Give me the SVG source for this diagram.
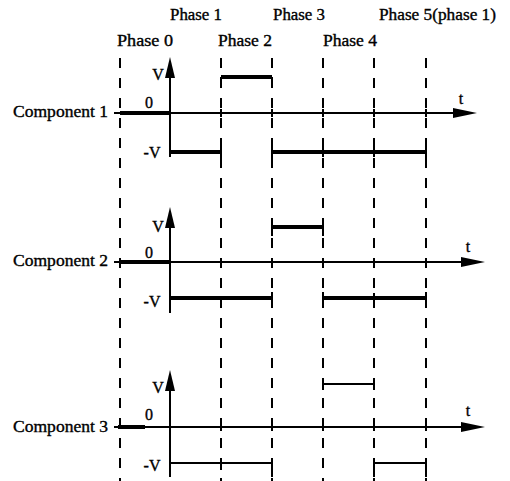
<svg xmlns="http://www.w3.org/2000/svg" width="510" height="481" viewBox="0 0 510 481">
<defs>
<style>
text{font-family:"Liberation Serif","Times New Roman",serif;font-size:16px;fill:#000;stroke:#000;stroke-width:0.35}
.ax{stroke:#000;stroke-width:2;fill:none}
.dash{stroke:#000;stroke-width:2;stroke-dasharray:10 10;fill:none}
.thick{stroke:#000;stroke-width:4;fill:none}
.thin{stroke:#000;stroke-width:2;fill:none}
.mid{text-anchor:middle}
</style>
</defs>
<rect width="510" height="481" fill="#fff"/>
<g id="phase-labels">
<text x="117" y="46" textLength="56" lengthAdjust="spacingAndGlyphs">Phase 0</text>
<text x="170" y="20" textLength="52" lengthAdjust="spacingAndGlyphs">Phase 1</text>
<text x="218" y="46" textLength="54" lengthAdjust="spacingAndGlyphs">Phase 2</text>
<text x="273" y="20" textLength="52" lengthAdjust="spacingAndGlyphs">Phase 3</text>
<text x="323" y="46" textLength="54" lengthAdjust="spacingAndGlyphs">Phase 4</text>
<text x="379" y="20" textLength="117" lengthAdjust="spacingAndGlyphs">Phase 5(phase 1)</text>
</g>
<g id="connectors">
<path class="dash" d="M120 58V481M221 58V481M272 58V481M323 58V481M374 58V481M426 58V481"/>
</g>
<g id="component1">
<text x="13" y="117" textLength="95" lengthAdjust="spacingAndGlyphs" font-size="17">Component 1</text>
<path class="ax" d="M114 113H458"/>
<polygon points="477,113 453,108 453,118"/>
<path class="ax" d="M170 75V157"/>
<polygon points="170,57 165,78 175,78"/>
<path class="thick" d="M120 113H170"/>
<path class="thin" d="M221 77V86M272 77V86M221 109V117M272 109V117M323 109V117M374 109V117M426 109V117"/>
<path class="thick" d="M221 77H272"/>
<path class="thick" d="M170 152H221M272 152H426"/>
<path class="thin" d="M221 146V158M272 146V158M323 147V157M374 147V157M426 146V158"/>
<text class="mid" x="158" y="80">V</text>
<text class="mid" x="149" y="108">0</text>
<text class="mid" x="152" y="158">-V</text>
<text class="mid" x="461" y="104">t</text>
</g>
<g id="component2">
<text x="13" y="266" textLength="95" lengthAdjust="spacingAndGlyphs" font-size="17">Component 2</text>
<path class="ax" d="M114 262H466"/>
<polygon points="485,262 461,257 461,267"/>
<path class="ax" d="M170 225V313"/>
<polygon points="170,207 165,228 175,228"/>
<path class="thick" d="M120 262H170" stroke-width="3"/>
<path class="thin" d="M272 227V236M323 227V236M221 258V266M272 258V266M323 258V266M374 258V266M426 258V266"/>
<path class="thick" d="M272 227H323"/>
<path class="thick" d="M170 298H272M323 298H426"/>
<path class="thin" d="M272 292V304M323 292V304M374 293V303M426 292V304"/>
<text class="mid" x="158" y="232">V</text>
<text class="mid" x="149" y="258">0</text>
<text class="mid" x="152" y="307">-V</text>
<text class="mid" x="468" y="252">t</text>
</g>
<g id="component3">
<text x="13" y="432" textLength="95" lengthAdjust="spacingAndGlyphs" font-size="17">Component 3</text>
<path class="ax" d="M114 427H466"/>
<polygon points="485,427 461,422 461,432"/>
<path class="ax" d="M170 388V477"/>
<polygon points="170,370 165,391 175,391"/>
<path class="thick" d="M118 427H145" stroke-width="3"/>
<path class="thin" d="M221 423V431M272 423V431M323 423V431M374 423V431M426 423V431"/>
<path class="thin" d="M323 384H374M323 379V390M374 379V390"/>
<path class="thin" d="M170 463H272M374 463H426M272 463V477M374 463V477M426 463V477M221 459V470"/>
<text class="mid" x="158" y="393">V</text>
<text class="mid" x="149" y="420">0</text>
<text class="mid" x="152" y="471">-V</text>
<text class="mid" x="468" y="416">t</text>
</g>
</svg>
